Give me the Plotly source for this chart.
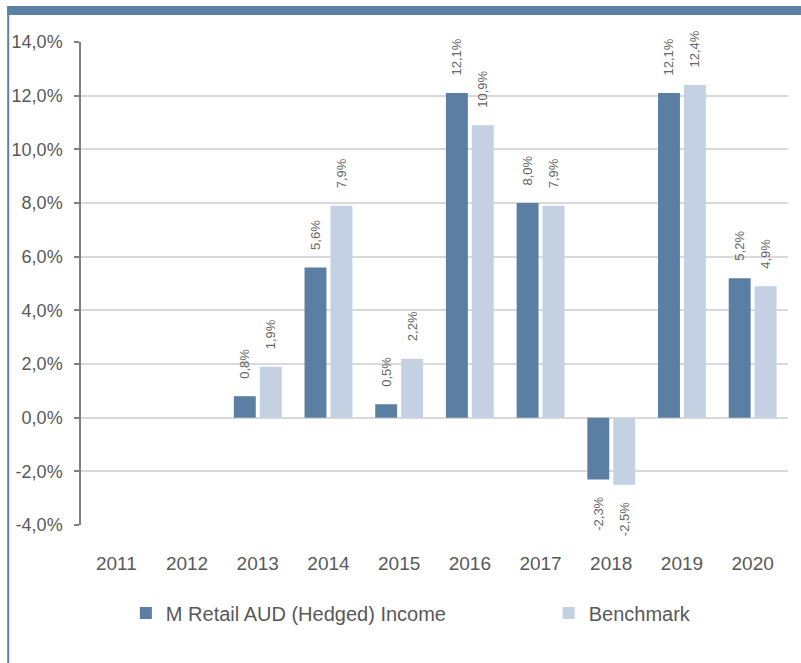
import plotly.graph_objects as go

years = ["2011", "2012", "2013", "2014", "2015", "2016", "2017", "2018", "2019", "2020"]
fund = [None, None, 0.8, 5.6, 0.5, 12.1, 8.0, -2.3, 12.1, 5.2]
bench = [None, None, 1.9, 7.9, 2.2, 10.9, 7.9, -2.5, 12.4, 4.9]
fund_name = "M Retail AUD (Hedged) Income"
bench_name = "Benchmark"
y_ticks = [-4, -2, 0, 2, 4, 6, 8, 10, 12, 14]

DARK = "#5B7FA3"
LIGHT = "#C4D1E3"
FRAME = "#5B81A6"
TXT = "#595959"
FONT = "Liberation Sans, Arial, sans-serif"

W, H = 801, 663
L, R, T, B = 79, 13, 42, 138


def px_x(px):
    return (px - L) / (W - L - R)


def px_y(py):
    return (H - B - py) / (H - T - B)


def pct(v):
    return f"{v:.1f}".replace(".", ",") + "%"


NB = "\u00a0" * 4


def label(v):
    if v is None:
        return ""
    return NB + pct(v) if v >= 0 else pct(v) + NB


fig = go.Figure()
for name, vals, col, leg in [(fund_name, fund, DARK, "legend"),
                             (bench_name, bench, LIGHT, "legend2")]:
    fig.add_trace(go.Bar(
        x=years, y=vals, name=name, legend=leg,
        marker=dict(color=col, line=dict(width=0)),
        text=[label(v) for v in vals],
        textposition="outside", textangle=-90,
        textfont=dict(family=FONT, size=13, color="#666666"),
        constraintext="none", cliponaxis=False,
        hoverinfo="skip",
    ))

legend_common = dict(
    orientation="h", xanchor="left", yanchor="middle", y=px_y(613),
    font=dict(family=FONT, size=20, color=TXT),
    itemwidth=30, bgcolor="rgba(0,0,0,0)",
)

fig.update_layout(
    width=W, height=H,
    margin=dict(l=L, r=R, t=T, b=B, pad=0),
    paper_bgcolor="white", plot_bgcolor="white",
    separators=", ",
    barmode="group", bargap=0.267, bargroupgap=0.154,
    font=dict(family=FONT, color=TXT),
    showlegend=True,
    legend=dict(x=px_x(124), **legend_common),
    legend2=dict(x=px_x(548), **legend_common),
    xaxis=dict(
        type="category", range=[-0.5, 9.5],
        showline=False, showgrid=False, zeroline=False,
        ticks="", ticklabelstandoff=25,
        tickfont=dict(family=FONT, size=19, color=TXT),
    ),
    xaxis2=dict(
        overlaying="x", anchor="free", position=4 / 18,
        range=[-0.5, 9.5], showticklabels=False,
        tickvals=[i - 0.5 for i in range(len(years) + 1)],
        ticks="outside", ticklen=5, tickcolor="#808080", tickwidth=1.5,
        showline=True, linecolor="#808080", linewidth=1.5,
        showgrid=False, zeroline=False,
    ),
    yaxis=dict(
        range=[-4, 14], tickvals=y_ticks,
        ticktext=[pct(v) for v in y_ticks],
        showline=True, linecolor="#808080", linewidth=1.5,
        ticks="outside", ticklen=5, tickcolor="#808080", tickwidth=1.5,
        showgrid=True, gridcolor="#D9D9D9", gridwidth=1.5,
        zeroline=False, ticklabelstandoff=8,
        tickfont=dict(family=FONT, size=18, color=TXT),
    ),
)

fig.add_shape(type="rect", xref="paper", yref="paper",
              x0=px_x(5), x1=px_x(801), y0=px_y(15), y1=px_y(6),
              fillcolor=FRAME, line=dict(width=0), layer="above")
fig.add_shape(type="line", xref="paper", yref="paper",
              x0=px_x(6), x1=px_x(6), y0=px_y(663), y1=px_y(6),
              line=dict(color=FRAME, width=2), layer="above")

fig.write_html("out.html", config={"displayModeBar": False},
               post_script="document.body.style.margin='0';document.body.style.overflow='hidden';")
